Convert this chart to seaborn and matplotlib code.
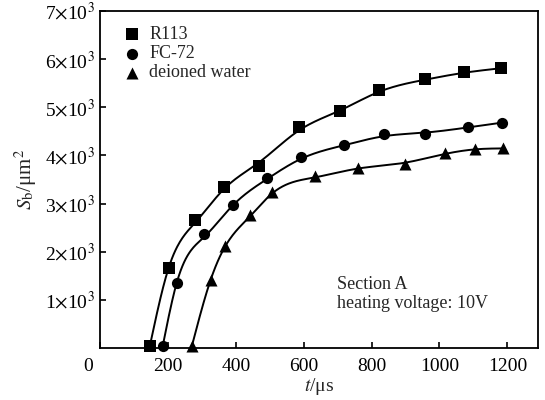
import numpy as np
import pandas as pd
import matplotlib
matplotlib.use("Agg")
import matplotlib.pyplot as plt
import matplotlib.transforms as mtransforms
import seaborn as sns

# ---- data ----
r113_t = [147, 202, 281, 365, 468, 585, 708, 821, 957, 1071, 1182]
r113_s = [50, 1660, 2667, 3340, 3790, 4600, 4917, 5354, 5590, 5723, 5812]

fc72_t = [185, 226, 306, 391, 491, 593, 718, 838, 956, 1084, 1184]
fc72_s = [50, 1354, 2375, 2965, 3527, 3965, 4215, 4437, 4452, 4590, 4681]

water_t = [271, 326, 368, 441, 508, 632, 759, 897, 1015, 1106, 1188]
water_s = [50, 1417, 2110, 2756, 3244, 3569, 3744, 3819, 4056, 4140, 4146]

series_names = ["R113", "FC-72", "deioned water"]
series_markers = ["s", "o", "^"]
x_ticks = [0, 200, 400, 600, 800, 1000, 1200]
y_ticks = [1000, 2000, 3000, 4000, 5000, 6000, 7000]
y_tick_labels = [r"1$\times$10$^3$", r"2$\times$10$^3$", r"3$\times$10$^3$",
                 r"4$\times$10$^3$", r"5$\times$10$^3$", r"6$\times$10$^3$",
                 r"7$\times$10$^3$"]

sns.set_theme(style="ticks")
plt.rcParams["font.family"] = ["Liberation Serif", "DejaVu Serif"]
plt.rcParams["mathtext.fontset"] = "stix"
plt.rcParams["xtick.direction"] = "in"
plt.rcParams["ytick.direction"] = "in"


def smooth_curve(x, y, xs, lam=0.35):
    """Smoothed cubic spline (natural spline through lightly smoothed knots)."""
    x = np.asarray(x, float); y = np.asarray(y, float)
    n = len(x)
    ys = y.copy()
    ys[1:-1] = (1 - lam) * y[1:-1] + lam * 0.5 * (y[:-2] + y[2:])
    ys[1] = y[1]
    h = np.diff(x)
    A = np.zeros((n, n)); r = np.zeros(n)
    A[0, 0] = 1; A[-1, -1] = 1
    for i in range(1, n - 1):
        A[i, i - 1] = h[i - 1]; A[i, i] = 2 * (h[i - 1] + h[i]); A[i, i + 1] = h[i]
        r[i] = 6 * ((ys[i + 1] - ys[i]) / h[i] - (ys[i] - ys[i - 1]) / h[i - 1])
    M = np.linalg.solve(A, r)
    idx = np.clip(np.searchsorted(x, xs) - 1, 0, n - 2)
    xa = x[idx]; xb = x[idx + 1]; hh = xb - xa
    return (M[idx] * (xb - xs) ** 3 / (6 * hh) + M[idx + 1] * (xs - xa) ** 3 / (6 * hh)
            + (ys[idx] / hh - M[idx] * hh / 6) * (xb - xs)
            + (ys[idx + 1] / hh - M[idx + 1] * hh / 6) * (xs - xa))


fig = plt.figure(figsize=(5.45, 4.0), dpi=100)
ax = fig.add_axes([0.1835, 0.13, 0.8035, 0.8425])

all_t = [r113_t, fc72_t, water_t]
all_s = [r113_s, fc72_s, water_s]
for name, mk, t, s in zip(series_names, series_markers, all_t, all_s):
    xs = np.linspace(t[0], t[-1], 400)
    curve = pd.DataFrame({"t": xs, "s": smooth_curve(t, s, xs)})
    sns.lineplot(data=curve, x="t", y="s", ax=ax, color="black", lw=1.4,
                 legend=False)
    pts = pd.DataFrame({"t": t, "s": s})
    sns.scatterplot(data=pts, x="t", y="s", ax=ax, marker=mk, color="black",
                    s=65 if mk != "^" else 75, edgecolor="black", linewidth=0,
                    label=name, zorder=3, clip_on=False)

ax.set_xlim(0, 1290)
ax.set_ylim(0, 7000)
ax.set_xticks(x_ticks)
ax.set_xticklabels([str(v) for v in x_ticks])
ax.set_yticks(y_ticks)
ax.set_yticklabels(y_tick_labels)
ax.tick_params(labelsize=14, length=4, width=1.2, colors="black", pad=4)
ax.tick_params(axis="x", pad=7)
ax.set_xlabel(r"$t$/μs", fontsize=14, labelpad=1)
ax.set_ylabel(r"$S_\mathrm{b}$/μm$^2$", fontsize=15, labelpad=4)
for sp in ax.spines.values():
    sp.set_visible(True)
    sp.set_linewidth(1.3)
    sp.set_color("black")

# shift the "0" x tick label to the left, as in the reference
zero_lbl = ax.get_xticklabels()[0]
zero_lbl.set_transform(zero_lbl.get_transform() +
                       mtransforms.ScaledTranslation(-12 / 100, 0, fig.dpi_scale_trans))

leg = ax.legend(loc="upper left", bbox_to_anchor=(0.055, 0.955), frameon=False,
                prop={"family": "Liberation Serif", "size": 13},
                handletextpad=0.5, labelspacing=0.12,
                borderaxespad=0.0, handlelength=0.9, borderpad=0.0)

ax.text(0.542, 0.215, "Section A\nheating voltage: 10V", transform=ax.transAxes,
        fontsize=13, family="Liberation Serif", ha="left", va="top",
        linespacing=1.2)

fig.savefig("out.png", dpi=100)
